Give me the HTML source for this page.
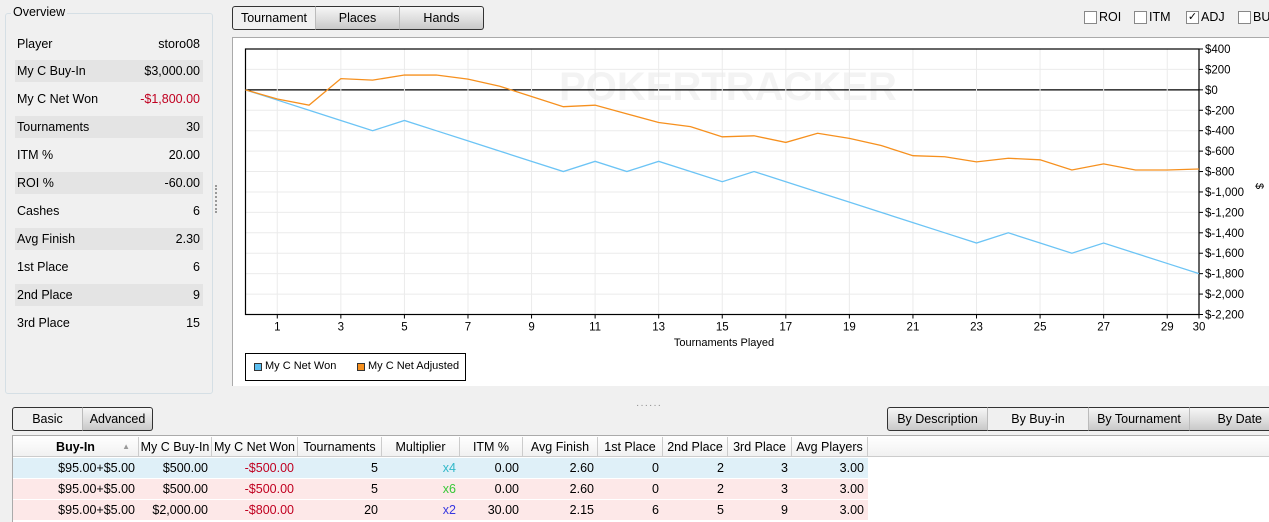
<!DOCTYPE html>
<html><head><meta charset="utf-8">
<style>
*{box-sizing:border-box;margin:0;padding:0}
body{width:1269px;height:522px;background:#f0f0f0;font-family:"Liberation Sans",sans-serif;font-size:12px;color:#000;position:relative;overflow:hidden}
.abs{position:absolute}
.panel{left:5px;top:13px;width:208px;height:381px;border:1px solid #d5dfe5;border-radius:3px;background:#f0f0f0}
.ptitle{left:11px;top:5px;background:#f0f0f0;padding:0 2px;font-size:12.5px}
.row{left:15px;width:188px;height:22px;line-height:22px;font-size:12.5px}
.row span{position:absolute;right:3px}
.row b{font-weight:normal;position:absolute;left:2px}
.stripe{background:#e4e4e4}
.btn{height:24px;line-height:22px;text-align:center;border:1px solid #333;background:linear-gradient(#f6f6f6,#dcdcdc 60%,#c8c8c8);font-size:12.5px}
.sel{background:#f0f0f0}
.cb{top:11px;width:13px;height:13px;border:1px solid #888;background:#fff}
.cbl{top:10px;font-size:12.5px}
.th{top:437px;height:20px;line-height:20px;font-size:12.5px;text-align:center;border-right:1px solid #ccc}
.td{height:20px;line-height:20px;font-size:12.5px;text-align:right;padding-right:4px}
</style></head><body>
<div class="abs panel"></div>
<div class="abs ptitle">Overview</div>
<div class="abs row" style="top:33px"><b>Player</b><span>storo08</span></div>
<div class="abs row stripe" style="top:60px"><b>My C Buy-In</b><span>$3,000.00</span></div>
<div class="abs row" style="top:88px"><b>My C Net Won</b><span style="color:#c00020">-$1,800.00</span></div>
<div class="abs row stripe" style="top:116px"><b>Tournaments</b><span>30</span></div>
<div class="abs row" style="top:144px"><b>ITM %</b><span>20.00</span></div>
<div class="abs row stripe" style="top:172px"><b>ROI %</b><span>-60.00</span></div>
<div class="abs row" style="top:200px"><b>Cashes</b><span>6</span></div>
<div class="abs row stripe" style="top:228px"><b>Avg Finish</b><span>2.30</span></div>
<div class="abs row" style="top:256px"><b>1st Place</b><span>6</span></div>
<div class="abs row stripe" style="top:284px"><b>2nd Place</b><span>9</span></div>
<div class="abs row" style="top:312px"><b>3rd Place</b><span>15</span></div>
<div class="abs" style="left:215px;top:185px;width:2px;height:28px;border-left:2px dotted #999"></div>

<div class="abs btn sel" style="left:232px;top:6px;width:84px;border-radius:3px 0 0 3px">Tournament</div>
<div class="abs btn" style="left:315px;top:6px;width:85px;border-left:1px solid #bbb">Places</div>
<div class="abs btn" style="left:399px;top:6px;width:85px;border-radius:0 3px 3px 0;border-left:1px solid #bbb">Hands</div>

<div class="abs cb" style="left:1084px"></div><div class="abs cbl" style="left:1099px">ROI</div>
<div class="abs cb" style="left:1134px"></div><div class="abs cbl" style="left:1149px">ITM</div>
<div class="abs cb" style="left:1186px;font-size:11px;line-height:10px;text-align:center">✓</div><div class="abs cbl" style="left:1201px">ADJ</div>
<div class="abs cb" style="left:1238px"></div><div class="abs cbl" style="left:1253px">BU</div>

<div class="abs" style="left:232px;top:37px;width:1037px;height:349px;background:#fff;border-left:1px solid #aaa;border-top:1px solid #aaa"></div>
<svg class="abs" id="chart" style="left:0;top:0" width="1269" height="400"></svg>

<div class="abs" style="left:245px;top:353px;width:221px;height:28px;border:1.5px solid #000;background:#fff;font-size:11px">
 <div class="abs" style="left:8px;top:9px;width:8px;height:8px;background:#5bbef0;border:1px solid #333"></div>
 <div class="abs" style="left:19px;top:6px">My C Net Won</div>
 <div class="abs" style="left:111px;top:9px;width:8px;height:8px;background:#f6901e;border:1px solid #333"></div>
 <div class="abs" style="left:122px;top:6px">My C Net Adjusted</div>
</div>
<div class="abs" style="left:636px;top:400px;color:#888;letter-spacing:1px;font-size:10px">······</div>

<div class="abs btn" style="left:12px;top:407px;width:71px;border-radius:3px 0 0 3px;background:#f0f0f0">Basic</div>
<div class="abs btn" style="left:82px;top:407px;width:71px;border-radius:0 3px 3px 0;border-left:1px solid #bbb">Advanced</div>

<div class="abs btn" style="left:887px;top:407px;width:101px;border-radius:3px 0 0 3px">By Description</div>
<div class="abs btn" style="left:987px;top:407px;width:102px;background:#f0f0f0;border-left:1px solid #bbb">By Buy-in</div>
<div class="abs btn" style="left:1088px;top:407px;width:102px;border-left:1px solid #bbb">By Tournament</div>
<div class="abs btn" style="left:1189px;top:407px;width:82px;border-left:1px solid #bbb;text-align:right;padding-right:8px">By Date</div>

<div class="abs" style="left:12px;top:435px;width:1257px;height:87px;background:#fff;border-top:1px solid #aaa;border-left:1px solid #aaa"></div>
<div class="abs" style="left:13px;top:436px;width:1256px;height:21px;background:linear-gradient(#fff,#f1f1f1);border-bottom:1px solid #ccc"></div>
<div id="tbl"></div>

<script>
// chart data
const games = [0,1,2,3,4,5,6,7,8,9,10,11,12,13,14,15,16,17,18,19,20,21,22,23,24,25,26,27,28,29,30];
const netWon = [0,-100,-200,-300,-400,-300,-400,-500,-600,-700,-800,-700,-800,-700,-800,-900,-800,-900,-1000,-1100,-1200,-1300,-1400,-1500,-1400,-1500,-1600,-1500,-1600,-1700,-1800];
const netAdjusted = [0,-90,-150,110,95,145,145,105,35,-65,-165,-150,-235,-320,-360,-460,-450,-515,-425,-475,-545,-645,-655,-705,-670,-685,-785,-725,-785,-785,-775];
const yTicks = [400,200,0,-200,-400,-600,-800,-1000,-1200,-1400,-1600,-1800,-2000,-2200];
const yTickLabels = ["$400","$200","$0","$-200","$-400","$-600","$-800","$-1,000","$-1,200","$-1,400","$-1,600","$-1,800","$-2,000","$-2,200"];
const xTicks = [1,3,5,7,9,11,13,15,17,19,21,23,25,27,29,30];

const svg = document.getElementById('chart');
const NS = 'http://www.w3.org/2000/svg';
const X0=245.5, X1=1199, Y0=49, Y1=314.5, XMIN=0, XMAX=30, YMIN=-2200, YMAX=400;
const xs = v => X0 + (v-XMIN)/(XMAX-XMIN)*(X1-X0);
const ys = v => Y1 - (v-YMIN)/(YMAX-YMIN)*(Y1-Y0);
function mk(tag, attrs){const e=document.createElementNS(NS,tag);for(const k in attrs)e.setAttribute(k,attrs[k]);svg.appendChild(e);return e;}

const wm = mk('text',{x:728,y:100,'text-anchor':'middle','font-size':40,'font-weight':'bold',fill:'#f3f3f3','font-family':'Liberation Sans, sans-serif'});
wm.textContent='POKERTRACKER';



yTicks.forEach((t,i)=>{
  const g = mk('line',{x1:X0,x2:X1,y1:ys(t),y2:ys(t),stroke:t===0?'#000':'#ebebeb','stroke-width':t===0?1.2:1});
  
  
  const tk = mk('line',{x1:X1,x2:X1+4,y1:ys(t),y2:ys(t),stroke:'#000'});
  
  
  const tx = mk('text',{x:X1+6,y:ys(t)+4,'font-size':11.5,fill:'#000','font-family':'Liberation Sans, sans-serif'});
  tx.textContent = yTickLabels[i];
  
  
});
xTicks.forEach(t=>{
  const g = mk('line',{x1:xs(t),x2:xs(t),y1:Y0,y2:Y1,stroke:'#ebebeb'});
  
  
  const tk = mk('line',{x1:xs(t),x2:xs(t),y1:Y1,y2:Y1+4,stroke:'#000'});
  
  
  const tx = mk('text',{x:xs(t),y:Y1+16,'text-anchor':'middle','font-size':11.5,fill:'#000','font-family':'Liberation Sans, sans-serif'});
  tx.textContent = t;
  
  
});
const box = mk('rect',{x:X0,y:Y0,width:X1-X0,height:Y1-Y0,fill:'none',stroke:'#000','stroke-width':1.2});



function series(vals,color,name){
  const p = mk('polyline',{points:vals.map((v,i)=>xs(games[i])+','+ys(v)).join(' '),fill:'none',stroke:color,'stroke-width':1.3});
  
  
}
series(netWon,'#6cc4f5','net-won-line');
series(netAdjusted,'#f6901e','net-adjusted-line');

const xt = mk('text',{x:724,y:346,'text-anchor':'middle','font-size':11,fill:'#000','font-family':'Liberation Sans, sans-serif'});
xt.textContent='Tournaments Played';


const yt = mk('text',{x:1256,y:186,'text-anchor':'middle','font-size':11,fill:'#000',transform:'rotate(90 1256 186)','font-family':'Liberation Sans, sans-serif'});
yt.textContent='$';



// table
const cols = [["Buy-In",13,139],["My C Buy-In",139,212],["My C Net Won",212,298],["Tournaments",298,382],["Multiplier",382,460],["ITM %",460,523],["Avg Finish",523,598],["1st Place",598,663],["2nd Place",663,728],["3rd Place",728,792],["Avg Players",792,868]];
const rows = [
 ["$95.00+$5.00","$500.00","-$500.00","5","x4","0.00","2.60","0","2","3","3.00"],
 ["$95.00+$5.00","$500.00","-$500.00","5","x6","0.00","2.60","0","2","3","3.00"],
 ["$95.00+$5.00","$2,000.00","-$800.00","20","x2","30.00","2.15","6","5","9","3.00"]];
const rowBg=['#dff0f8','#fde8e8','#fde8e8'];
const multColor=['#30b8c8','#38c838','#3838e0'];
const tbl=document.getElementById('tbl');
cols.forEach((c,i)=>{
  const d=document.createElement('div');
  d.className='abs th';
  d.style.left=c[1]+'px';d.style.width=(c[2]-c[1])+'px';
  d.textContent=c[0];
  if(i===0){d.style.fontWeight='bold';d.innerHTML='Buy-In<span style="position:absolute;right:8px;font-size:8px;color:#999">▲</span>';}
  
  
  tbl.appendChild(d);
});
rows.forEach((r,ri)=>{
  const top = 458+ri*21;
  const bg=document.createElement('div');
  bg.className='abs';
  bg.style.cssText=`left:13px;top:${top}px;width:855px;height:20px;background:${rowBg[ri]}`;
  
  
  tbl.appendChild(bg);
  r.forEach((v,ci)=>{
    const d=document.createElement('div');
    d.className='abs td';
    const c=cols[ci];
    d.style.left=c[1]+'px';d.style.width=(c[2]-c[1])+'px';d.style.top=top+'px';
    if(ci===2)d.style.color='#c00020';
    if(ci===4)d.style.color=multColor[ri];
    d.textContent=v;
    
    
    tbl.appendChild(d);
  });
});
</script>
</body></html>
